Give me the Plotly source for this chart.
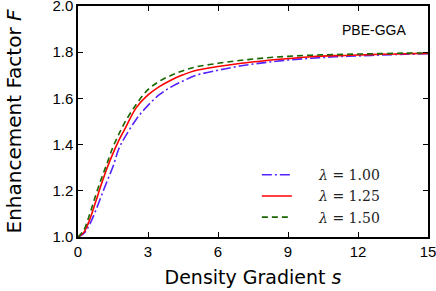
import plotly.graph_objects as go

# Density gradient s
s_vals = [0, 0.25, 0.5, 0.75, 1.0, 1.25, 1.5, 1.75, 2.0, 2.5, 3.0, 3.5, 4.0, 4.5,
          5.0, 6.0, 7.0, 8.0, 9.0, 10.0, 11.0, 12.0, 13.0, 14.0, 15.0]

# Enhancement factor F
F_lam100 = [1.000, 1.015, 1.055, 1.112, 1.178, 1.243, 1.305, 1.382, 1.430, 1.510, 1.570,
            1.617, 1.650, 1.675, 1.698, 1.722, 1.741, 1.755, 1.766, 1.774, 1.780, 1.784,
            1.788, 1.791, 1.793]
F_lam125 = [1.000, 1.020, 1.075, 1.150, 1.228, 1.300, 1.362, 1.418, 1.466, 1.560, 1.615,
            1.652, 1.680, 1.702, 1.720, 1.738, 1.752, 1.763, 1.772, 1.780, 1.785, 1.788,
            1.791, 1.793, 1.795]
F_lam150 = [1.000, 1.030, 1.098, 1.178, 1.252, 1.320, 1.390, 1.445, 1.495, 1.575, 1.638,
            1.675, 1.700, 1.720, 1.735, 1.752, 1.765, 1.775, 1.782, 1.787, 1.790, 1.792,
            1.794, 1.796, 1.797]

labels = ["<i>λ</i> = 1.00", "<i>λ</i> = 1.25", "<i>λ</i> = 1.50"]
x_ticks = [0, 3, 6, 9, 12, 15]
y_ticks = [1.0, 1.2, 1.4, 1.6, 1.8, 2.0]

pad = "\u00a0" * 5
fig = go.Figure()
fig.add_trace(go.Scatter(x=s_vals, y=F_lam100, mode="lines", name=pad + labels[0],
                         line=dict(color="#5522ff", width=1.6, dash="10px,3px,2px,3px"),
                         line_shape="spline"))
fig.add_trace(go.Scatter(x=s_vals, y=F_lam125, mode="lines", name=pad + labels[1],
                         line=dict(color="#ff0000", width=1.6), line_shape="spline"))
fig.add_trace(go.Scatter(x=s_vals, y=F_lam150, mode="lines", name=pad + labels[2],
                         line=dict(color="#1a6600", width=1.6, dash="6px,4px"),
                         line_shape="spline"))

axis_common = dict(showline=True, linecolor="black", linewidth=1.5, mirror="ticks",
                   ticks="inside", ticklen=5, tickwidth=1.2, tickcolor="black",
                   showgrid=False, zeroline=False, automargin=False,
                   ticklabeloverflow="allow",
                   tickfont=dict(family="Liberation Sans", size=15, color="black"))

fig.update_layout(
    width=436, height=291,
    margin=dict(l=78, r=8, t=6, b=54),
    paper_bgcolor="white", plot_bgcolor="white",
    xaxis=dict(range=[0, 15], tickvals=x_ticks, ticktext=[str(v) for v in x_ticks],
               title=dict(text="Density Gradient <i>s</i>", standoff=12,
                          font=dict(family="DejaVu Sans", size=19, color="black")),
               **axis_common),
    yaxis=dict(range=[1.0, 2.0], tickvals=y_ticks, ticktext=[f"{v:.1f}" for v in y_ticks],
               title=dict(text="Enhancement Factor <i>F</i>", standoff=25,
                          font=dict(family="DejaVu Sans", size=20, color="black")),
               **axis_common),
    legend=dict(x=0.511, y=0.337, xanchor="left", yanchor="top",
                bgcolor="rgba(0,0,0,0)", borderwidth=0,
                font=dict(family="DejaVu Serif", size=14, color="#222"),
                tracegroupgap=0, itemwidth=30),
    annotations=[dict(text="PBE-GGA", x=0.943, y=0.896, xref="paper", yref="paper",
                      xanchor="right", yanchor="middle", showarrow=False,
                      font=dict(family="Liberation Sans", size=14, color="black"))],
)

fig.write_html("out.html", config={"displayModeBar": False},
               post_script="document.body.style.margin='0px';")
